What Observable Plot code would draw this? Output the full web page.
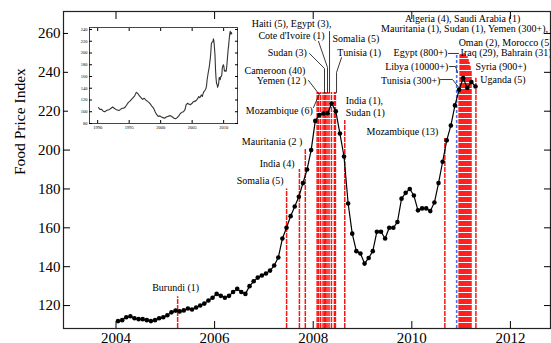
<!DOCTYPE html>
<html><head><meta charset="utf-8">
<script src="https://cdn.jsdelivr.net/npm/d3@7"></script>
<script src="https://cdn.jsdelivr.net/npm/@observablehq/plot@0.6"></script>
<style>
html,body{margin:0;padding:0;background:#fff;}
#wrap{position:relative;width:551px;height:343px;overflow:hidden;}
#inset{position:absolute;left:68px;top:22px;}
</style></head><body><div id="wrap"><div id="main"></div><div id="inset"></div></div>
<script>
// FAO Food Price Index, monthly, Jan 2004 .. Apr 2011
const startYear = 2004;
const fpi = [
  112, 112.5, 114, 114.5, 113.5, 113, 113, 112.5, 112, 112.5, 113.5, 114,
  115, 116.5, 117.4, 117, 117.5, 118.5, 118, 119, 120, 121, 122.6, 124,
  126, 125, 124, 125, 127, 128.6, 127, 126, 130, 132.5, 134.4, 135.5,
  136.5, 138, 140.6, 144.7, 154.5, 160, 166, 171, 176, 183, 190, 200,
  215, 218, 218.8, 219, 224, 220, 208.5, 196.7, 172.5, 157, 148, 146.8,
  141.6, 144.5, 148, 158, 158, 154.5, 160, 160, 163, 175, 178, 180,
  176.6, 169, 170, 170, 168.6, 173, 183, 194, 205, 212.6, 223, 231,
  237, 232, 235, 232.7
];
// inset: earlier history, quarterly 1990..2003
const insetStart = 1990;
const insetEarly = [
  107, 104, 104, 101, 100, 102, 103, 104, 106, 108, 106, 104,
  103, 102, 104, 106, 106, 108, 112, 116, 118, 121, 124, 127,
  133, 131, 127, 124, 121, 123, 120, 118, 116, 113, 109, 106,
  100, 95, 92, 93, 91, 90, 89, 91, 92, 93, 93, 91,
  89, 88, 90, 93, 97, 99, 100, 104
];
// riot events: date (decimal year), line top (index value)
const eventNames = ["Burundi","Somalia","India","Mauritania","Mozambique","Cameroon","Cameroon","Yemen","Cote d'Ivoire","Haiti","Egypt","Sudan","Somalia","Tunisia","Tunisia","India/Sudan",
  "Mozambique","Tunisia","Algeria","Mauritania","Sudan","Yemen","Egypt","Oman","Morocco","Iraq","Bahrain","Libya","Saudi Arabia","Syria","Uganda"];
const eventDates = [2005.25, 2007.46, 2007.72, 2007.84, 2008.08, 2008.11, 2008.15, 2008.20, 2008.23, 2008.25, 2008.28, 2008.32, 2008.37, 2008.43, 2008.45, 2008.64,
  2010.67, 2010.96, 2010.98, 2011.0, 2011.02, 2011.04, 2011.06, 2011.08, 2011.1, 2011.12, 2011.14, 2011.16, 2011.18, 2011.2, 2011.3];
const eventTops = [124.5, 180, 190, 200.3, 229.6, 229.6, 229.6, 229.6, 229.6, 229.6, 229.6, 229.6, 229.6, 229.6, 229.6, 215.2,
  206, 231.7, 249, 249, 249, 249, 250, 249, 248, 248, 247, 245, 243, 241, 237];
const reportDate = 2010.91, reportTop = 248.7;

// labels: text, x (year), y (index), anchor
const labelTexts = ["Burundi (1)","Somalia (5)","India (4)","Mauritania (2 )","Mozambique (6)","Cameroon (40)","Yemen (12 )",
  "Haiti (5), Egypt (3),","Cote d'Ivoire (1)","Sudan (3)","Somalia (5)","Tunisia (1)","India (1),","Sudan (1)",
  "Mozambique (13)","Algeria (4), Saudi Arabia (1)","Mauritania (1), Sudan (1), Yemen (300+),","Oman (2), Morocco (5)",
  "Egypt (800+)","Iraq (29), Bahrain (31)","Libya (10000+)","Syria (900+)","Tunisia (300+)","Uganda (5)"];
const labelX = [2005.21, 2007.40, 2007.62, 2007.78, 2007.99, 2007.84, 2007.86,
  2007.56, 2007.56, 2007.87, 2008.39, 2008.49, 2008.66, 2008.66,
  2010.54, 2011.03, 2011.07, 2010.95,
  2010.72, 2010.99, 2010.74, 2011.29, 2010.58, 2011.39];
const labelY = [129.3, 184, 193, 204.4, 220.4, 241, 235.8,
  264.8, 259.0, 250.2, 257, 250.2, 225.5, 219.3,
  209.6, 267.7, 262.6, 255.4,
  250.2, 250.2, 243, 243, 235.8, 236.3];
const labelAnchor = ["middle","end","end","end","end","end","end",
  "middle","middle","end","start","start","start","start",
  "end","middle","middle","start",
  "end","start","end","start","end","start"];

// leader lines (polylines) from labels to event bars
const leaders = [
  [[2008.331, 261.0],[2008.331, 229.6]],
  [[2007.925, 249.7],[2008.229, 242.0],[2008.229, 229.6]],
  [[2008.108, 255.9],[2008.290, 242.5],[2008.290, 229.6]],
  [[2007.905, 235.8],[2008.108, 229.1]],
  [[2008.006, 221.9],[2008.128, 229.1]],
  [[2008.574, 247.6],[2008.473, 239.9],[2008.473, 229.6]],
  [[2010.745, 249.7],[2010.947, 249.7]],
  [[2010.765, 243.0],[2010.887, 243.0],[2010.927, 239.9]],
  [[2010.582, 236.3],[2010.826, 236.3],[2010.968, 231.7]]
];

const xTicks = [2004, 2006, 2008, 2010, 2012];
const yTicks = [120, 140, 160, 180, 200, 220, 240, 260];
const insetXTicks = [1990, 1995, 2000, 2005, 2010];
const insetYTicks = [80, 100, 120, 140, 160, 180, 200, 220, 240];

// ---- build tables
const series = fpi.map((v, i) => ({t: startYear + (i + 0.5) / 12, v}));
const events = eventNames.map((n, i) => ({name: n, t: eventDates[i], top: eventTops[i]}));
const labels = labelTexts.map((s, i) => ({text: s, x: labelX[i], y: labelY[i], anchor: labelAnchor[i]}));
const leaderPts = leaders.flatMap((pts, k) => pts.map(([x, y]) => ({k, x, y})));
const insetSeries = insetEarly.map((v, i) => ({t: insetStart + (i + 0.5) / 4, v})).concat(series);

const yMin = 108.2, yMax = 271.3;
const main = Plot.plot({
  width: 551, height: 343,
  marginLeft: 63, marginRight: 1, marginTop: 11, marginBottom: 15,
  style: {fontFamily: "'Liberation Serif', 'Times New Roman', serif", fontSize: "10px", background: "white", overflow: "visible"},
  x: {domain: [2002.935, 2012.813]},
  y: {domain: [yMin, yMax]},
  marks: [
    Plot.ruleX(events, {x: "t", y1: yMin, y2: "top", stroke: "#ff1414", strokeWidth: 1.5, strokeDasharray: "5,1"}),
    Plot.ruleX([reportDate], {x: d => d, y1: yMin, y2: reportTop, stroke: "#4b6fe8", strokeWidth: 1.6, strokeDasharray: "3,2"}),
    Plot.line(leaderPts, {x: "x", y: "y", z: "k", stroke: "#222", strokeWidth: 0.9}),
    Plot.line(series, {x: "t", y: "v", stroke: "black", strokeWidth: 1.2}),
    Plot.dot(series, {x: "t", y: "v", r: 2.3, fill: "black"}),
    Plot.text(labels.filter(d => d.anchor === "start"), {x: "x", y: "y", text: "text", textAnchor: "start", fill: "black"}),
    Plot.text(labels.filter(d => d.anchor === "middle"), {x: "x", y: "y", text: "text", textAnchor: "middle", fill: "black"}),
    Plot.text(labels.filter(d => d.anchor === "end"), {x: "x", y: "y", text: "text", textAnchor: "end", fill: "black"}),
    Plot.frame({stroke: "#222", strokeWidth: 1.2}),
    Plot.axisX(xTicks, {anchor: "bottom", tickSize: 0, tickPadding: 4, tickFormat: d => String(d), fontSize: 15, label: null}),
    Plot.axisX(xTicks, {anchor: "bottom", tickSize: 7, dy: -7, tickFormat: () => "", label: null}),
    Plot.axisX(xTicks, {anchor: "top", tickSize: 7, dy: 7, tickFormat: () => "", label: null}),
    Plot.axisY(yTicks, {anchor: "left", tickSize: 0, tickPadding: 3, fontSize: 15, label: null}),
    Plot.axisY(yTicks, {anchor: "left", tickSize: 7, dx: 7, tickFormat: () => "", label: null}),
    Plot.axisY(yTicks, {anchor: "right", tickSize: 7, dx: -7, tickFormat: () => "", label: null}),
    Plot.text(["Food Price Index"], {frameAnchor: "left", rotate: -90, dx: -43, dy: 5, fontSize: 15.5, fill: "black"})
  ]
});
document.getElementById("main").appendChild(main);

const inset = Plot.plot({
  width: 175, height: 113,
  marginLeft: 21, marginRight: 6, marginTop: 5, marginBottom: 12,
  style: {fontFamily: "'Liberation Serif', serif", fontSize: "4.5px", background: "white"},
  x: {domain: [1988.7, 2012.2]},
  y: {domain: [80, 243.4]},
  marks: [
    Plot.frame({stroke: "#333", strokeWidth: 0.9}),
    Plot.axisX(insetXTicks, {anchor: "bottom", tickSize: 0, tickPadding: 2, tickFormat: d => String(d), label: null}),
    Plot.axisX(insetXTicks, {anchor: "bottom", tickSize: 3, dy: -3, tickFormat: () => "", label: null}),
    Plot.axisX(insetXTicks, {anchor: "top", tickSize: 3, dy: 3, tickFormat: () => "", label: null}),
    Plot.axisY(insetYTicks, {anchor: "left", tickSize: 0, tickPadding: 2, label: null}),
    Plot.axisY(insetYTicks, {anchor: "left", tickSize: 3, dx: 3, tickFormat: () => "", label: null}),
    Plot.axisY(insetYTicks, {anchor: "right", tickSize: 3, dx: -3, tickFormat: () => "", label: null}),
    Plot.line(insetSeries, {x: "t", y: "v", stroke: "#333", strokeWidth: 1.1})
  ]
});
document.getElementById("inset").appendChild(inset);
</script></body></html>
